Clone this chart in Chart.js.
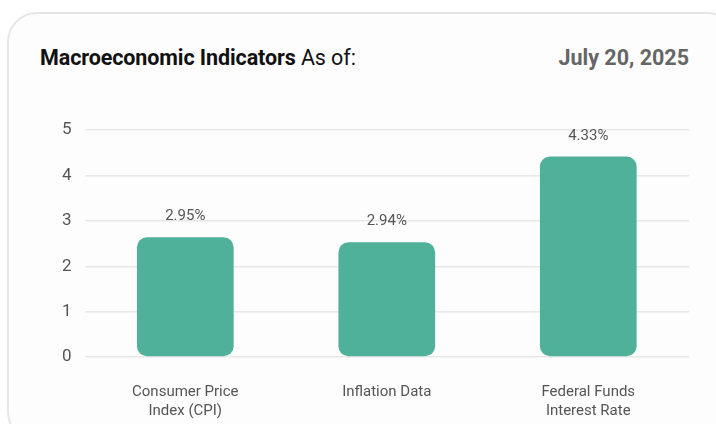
<!DOCTYPE html>
<html>
<head>
<meta charset="utf-8">
<script src="https://cdn.jsdelivr.net/npm/chart.js@4.4.1/dist/chart.umd.min.js"></script>
<style>
  html, body { margin: 0; padding: 0; background: #ffffff; }
  body { width: 716px; height: 424px; position: relative; overflow: hidden; font-family: Roboto, "Noto Sans", sans-serif; }
  .card {
    position: absolute; left: 7px; top: 12px; width: 730px; height: 430px;
    border: 2px solid #e6e6e6; border-radius: 30px; background: #fdfdfd; box-sizing: border-box;
  }
  .title { position: absolute; left: 40px; top: 45px; font-size: 21.5px; color: #111; letter-spacing: -0.1px; }
  .title b { font-weight: 700; }
  .date { position: absolute; right: 27px; top: 45px; font-size: 21.5px; font-weight: 700; color: #666; }
  .wrap { position: absolute; left: 40px; top: 107px; width: 660px; height: 344px; }
</style>
</head>
<body>
<div class="card"></div>
<div class="title"><b>Macroeconomic Indicators</b> As of:</div>
<div class="date">July 20, 2025</div>
<div class="wrap"><canvas id="chart"></canvas></div>
<script>
// Categorías y valores
const categories = [["Consumer Price", "Index (CPI)"], ["Inflation Data"], ["Federal Funds", "Interest Rate"]];
const barValues = [2.64, 2.53, 4.42];          // altura de las barras
const valueLabels = ["2.95%", "2.94%", "4.33%"]; // texto encima de cada barra
const yTicks = [0, 1, 2, 3, 4, 5];

// Plugin para escribir el porcentaje encima de cada barra
const barLabels = {
  id: 'barLabels',
  afterDatasetsDraw(chart) {
    const ctx = chart.ctx;
    const meta = chart.getDatasetMeta(0);
    ctx.save();
    ctx.font = '15px Roboto, "Noto Sans", sans-serif';
    ctx.fillStyle = '#555555';
    ctx.textAlign = 'center';
    ctx.textBaseline = 'bottom';
    meta.data.forEach((bar, i) => {
      ctx.fillText(valueLabels[i], bar.x, bar.y - 13);
    });
    ctx.restore();
  }
};

new Chart(document.getElementById('chart').getContext('2d'), {
  type: 'bar',
  data: {
    labels: categories,
    datasets: [{
      data: barValues,
      backgroundColor: '#50b19a',
      borderRadius: 10,
      borderSkipped: false,
      categoryPercentage: 0.8,
      barPercentage: 0.6
    }]
  },
  options: {
    responsive: true,
    maintainAspectRatio: false,
    animation: false,
    layout: { padding: { top: 4, right: 11, bottom: 5, left: 9 } },
    plugins: {
      legend: { display: false },
      tooltip: { enabled: false }
    },
    scales: {
      x: {
        grid: { display: false, drawTicks: false },
        border: { display: false },
        ticks: { color: '#555555', font: { family: 'Roboto', size: 15, lineHeight: 1.3 }, padding: 25, maxRotation: 0 }
      },
      y: {
        min: 0,
        max: 5,
        afterBuildTicks(axis) { axis.ticks = yTicks.map(v => ({ value: v })); },
        grid: { color: '#e8e8e8', lineWidth: 1.5, drawTicks: false },
        border: { display: false },
        ticks: { color: '#555555', font: { family: 'Roboto', size: 17 }, padding: 13 }
      }
    }
  },
  plugins: [barLabels]
});
</script>
</body>
</html>
